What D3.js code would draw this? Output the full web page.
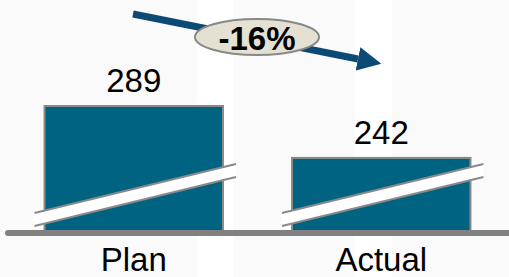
<!DOCTYPE html>
<html>
<head>
<meta charset="utf-8">
<script src="https://cdn.jsdelivr.net/npm/d3@7"></script>
<style>
  body { margin: 0; background: #fafafa; }
  svg { display: block; }
  text { font-family: "Liberation Sans", Arial, sans-serif; }
</style>
</head>
<body>
<div id="container"></div>
<script>
// chart data
var categories = ["Plan", "Actual"];
var values = [289, 242];
var changeLabel = "-16%";

var svgWidth = 509;
var svgHeight = 277;
var baseY = 233;
var axisFloor = 174; // broken axis, bars start here

var svg = d3.select("#container")
  .append("svg")
  .attr("width", svgWidth)
  .attr("height", svgHeight);

// faint background bands
svg.append("rect").attr("width", svgWidth).attr("height", svgHeight).attr("fill", "#fafafa");
svg.append("rect").attr("x", 197).attr("y", 0).attr("width", 36).attr("height", svgHeight).attr("fill", "#ffffff");
svg.append("rect").attr("x", 355).attr("y", 0).attr("width", 37).attr("height", svgHeight).attr("fill", "#ffffff");

var xScale = d3.scaleBand()
  .domain(categories)
  .range([10, 505])
  .paddingInner(0.279)
  .paddingOuter(0.1395);

var yScale = d3.scaleLinear()
  .domain([axisFloor, d3.max(values)])
  .range([baseY, 106]);

var data = categories.map(function(c, i) { return { cat: c, value: values[i] }; });

// bars
svg.selectAll(".bar")
  .data(data)
  .enter()
  .append("rect")
  .attr("class", "bar")
  .attr("x", d => xScale(d.cat))
  .attr("y", d => yScale(d.value))
  .attr("width", xScale.bandwidth())
  .attr("height", d => baseY - yScale(d.value))
  .attr("fill", "#006381")
  .attr("stroke", "#8a8a8a")
  .attr("stroke-width", 2);

// break marks
var breaks = svg.selectAll(".brk")
  .data(data)
  .enter()
  .append("g")
  .attr("class", "brk");

breaks.append("polygon")
  .attr("points", function(d) {
    var x0 = xScale(d.cat) - 10, x1 = xScale(d.cat) + xScale.bandwidth() + 13;
    return [[x0, baseY - 20], [x1, baseY - 69], [x1, baseY - 56], [x0, baseY - 7]].join(" ");
  })
  .attr("fill", "#ffffff");

breaks.selectAll("line")
  .data(d => [{ d: d, off: 0 }, { d: d, off: 13 }])
  .enter()
  .append("line")
  .attr("x1", e => xScale(e.d.cat) - 10)
  .attr("y1", e => baseY - 20 + e.off)
  .attr("x2", e => xScale(e.d.cat) + xScale.bandwidth() + 13)
  .attr("y2", e => baseY - 69 + e.off)
  .attr("stroke", "#8a8a8a")
  .attr("stroke-width", 2);

// baseline
svg.append("line")
  .attr("x1", 8)
  .attr("x2", 515)
  .attr("y1", baseY)
  .attr("y2", baseY)
  .attr("stroke", "#808080")
  .attr("stroke-width", 6)
  .attr("stroke-linecap", "round");

// value labels
svg.selectAll(".val")
  .data(data)
  .enter()
  .append("text")
  .attr("class", "val")
  .attr("x", d => xScale(d.cat) + xScale.bandwidth() / 2)
  .attr("y", d => yScale(d.value) - 14)
  .attr("text-anchor", "middle")
  .style("font-size", "33px")
  .attr("fill", "#000")
  .text(d => d.value);

// category labels
svg.selectAll(".cat")
  .data(data)
  .enter()
  .append("text")
  .attr("class", "cat")
  .attr("x", d => xScale(d.cat) + xScale.bandwidth() / 2)
  .attr("y", 271)
  .attr("text-anchor", "middle")
  .style("font-size", "33px")
  .attr("fill", "#000")
  .text(d => d.cat);

// change arrow
var defs = svg.append("defs");
defs.append("marker")
  .attr("id", "head")
  .attr("viewBox", "0 0 10 10")
  .attr("refX", 0)
  .attr("refY", 5)
  .attr("markerWidth", 3.4)
  .attr("markerHeight", 3.4)
  .attr("markerUnits", "strokeWidth")
  .attr("orient", "auto")
  .append("path")
  .attr("d", "M0,0 L10,5 L0,10 Z")
  .attr("fill", "#0b4a74");

svg.append("line")
  .attr("x1", 133)
  .attr("y1", 14)
  .attr("x2", 358)
  .attr("y2", 59)
  .attr("stroke", "#0b4a74")
  .attr("stroke-width", 7)
  .attr("marker-end", "url(#head)");

svg.append("ellipse")
  .attr("cx", 257)
  .attr("cy", 37)
  .attr("rx", 62)
  .attr("ry", 18)
  .attr("fill", "#e4e0d2")
  .attr("stroke", "#888")
  .attr("stroke-width", 2);

svg.append("text")
  .attr("x", 257)
  .attr("y", 50)
  .attr("text-anchor", "middle")
  .style("font-size", "33px")
  .style("font-weight", "bold")
  .attr("fill", "#000")
  .text(changeLabel);
</script>
</body>
</html>
